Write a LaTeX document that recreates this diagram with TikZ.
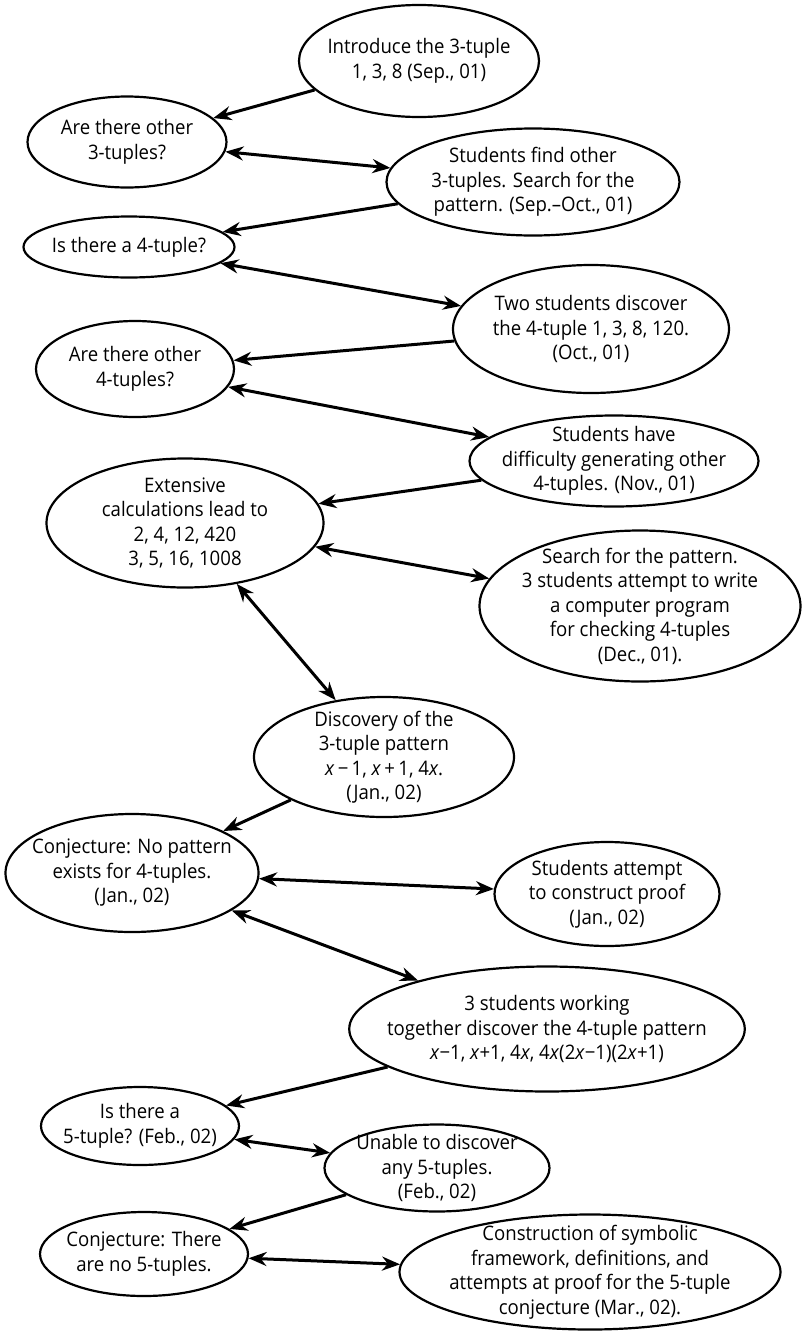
\documentclass[tikz,border=0pt]{standalone}
\usepackage{fontspec}
\setmainfont[FakeStretch=0.93]{Open Sans}
\usepackage{tikz}
\usetikzlibrary{shapes,arrows.meta,positioning,calc}

\begin{document}
\begin{tikzpicture}[
    x=1pt, y=-1pt,
    bubble/.style={ellipse, draw, line width=2.2pt, inner sep=-20pt, align=center,
        font=\fontsize{20}{24.5}\selectfont},
    arrow/.style={-{Stealth[length=18pt,width=14pt]}, line width=3pt},
    biarrow/.style={{Stealth[length=18pt,width=14pt]}-{Stealth[length=18pt,width=14pt]}, line width=3pt}
]
\useasboundingbox (0,0) rectangle (802,1331);

\node[bubble, minimum width=240pt, minimum height=112pt] (intro) at (419,61) {Introduce the 3-tuple\\1, 3, 8 (Sep., 01)};
\node[bubble, minimum width=199pt, minimum height=91pt] (arethree) at (127,142) {Are there other\\3-tuples?};
\node[bubble, minimum width=293pt, minimum height=107pt] (findthree) at (533,182) {Students find other\\3-tuples. Search for the\\pattern. (Sep.–Oct., 01)};
\node[bubble, minimum width=211pt, minimum height=61pt] (isfour) at (129,247) {Is there a 4-tuple?};
\node[bubble, minimum width=276pt, minimum height=128pt] (twostud) at (591,329) {Two students discover\\the 4-tuple 1, 3, 8, 120.\\(Oct., 01)};
\node[bubble, minimum width=198pt, minimum height=96pt] (arefour) at (135,369) {Are there other\\4-tuples?};
\node[bubble, minimum width=289pt, minimum height=91pt] (difficulty) at (614,461) {Students have\\difficulty generating other\\4-tuples. (Nov., 01)};
\node[bubble, minimum width=277pt, minimum height=129pt] (extensive) at (185,523) {Extensive\\calculations lead to\\2, 4, 12, 420\\3, 5, 16, 1008};
\node[bubble, minimum width=321pt, minimum height=151pt] (search) at (640,606) {Search for the pattern.\\3 students attempt to write\\a computer program\\for checking 4-tuples\\(Dec., 01).};
\node[bubble, minimum width=260pt, minimum height=120pt] (discovery) at (384,757) {Discovery of the\\3-tuple pattern\\\textit{x}\,−\,1, \textit{x}\,+\,1, 4\textit{x}.\\(Jan., 02)};
\node[bubble, minimum width=253pt, minimum height=118pt] (nopattern) at (132,873) {Conjecture: No pattern\\exists for 4-tuples.\\(Jan., 02)};
\node[bubble, minimum width=225pt, minimum height=104pt] (attempt) at (607,894) {Students attempt\\to construct proof\\(Jan., 02)};
\node[bubble, minimum width=388pt, minimum height=125pt] (working) at (547,1029) {3 students working\\together discover the 4-tuple pattern\\\textit{x}−1, \textit{x}+1, 4\textit{x}, 4\textit{x}(2\textit{x}−1)(2\textit{x}+1)};
\node[bubble, minimum width=198pt, minimum height=78pt] (isfive) at (140,1126) {Is there a\\5-tuple? (Feb., 02)};
\node[bubble, minimum width=225pt, minimum height=87pt] (unable) at (437,1168) {Unable to discover\\any 5-tuples.\\(Feb., 02)};
\node[bubble, minimum width=208pt, minimum height=84pt] (nofive) at (144,1254) {Conjecture: There\\are no 5-tuples.};
\node[bubble, minimum width=381pt, minimum height=115pt] (construct) at (590,1272) {Construction of symbolic\\framework, definitions, and\\attempts at proof for the 5-tuple\\conjecture (Mar., 02).};

\draw[arrow] (intro) -- (arethree);
\draw[biarrow] (arethree) -- (findthree);
\draw[arrow] (findthree) -- (isfour);
\draw[biarrow] (isfour) -- (twostud);
\draw[arrow] (twostud) -- (arefour);
\draw[biarrow] (arefour) -- (difficulty);
\draw[arrow] (difficulty) -- (extensive);
\draw[biarrow] (extensive) -- (search);
\draw[biarrow] (extensive) -- (discovery);
\draw[arrow] (discovery) -- (nopattern);
\draw[biarrow] (nopattern) -- (attempt);
\draw[biarrow] (nopattern) -- (working);
\draw[arrow] (working) -- (isfive);
\draw[biarrow] (isfive) -- (unable);
\draw[arrow] (unable) -- (nofive);
\draw[biarrow] (nofive) -- (construct);
\end{tikzpicture}
\end{document}
